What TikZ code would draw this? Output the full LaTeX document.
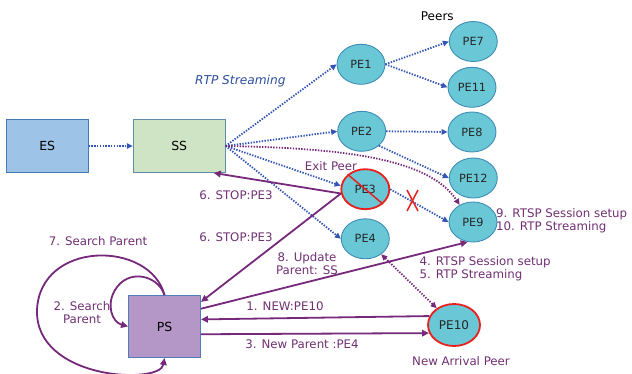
\documentclass[tikz,border=0pt]{standalone}
\usepackage{fontspec}
\setmainfont{DejaVu Sans}
\usetikzlibrary{arrows.meta,shapes.geometric}
\definecolor{peerfill}{RGB}{106,200,214}
\definecolor{peerline}{RGB}{62,140,182}
\definecolor{esfill}{RGB}{157,195,230}
\definecolor{esline}{RGB}{70,120,180}
\definecolor{ssfill}{RGB}{207,228,197}
\definecolor{ssline}{RGB}{96,140,170}
\definecolor{psfill}{RGB}{180,151,198}
\definecolor{psline}{RGB}{80,125,185}
\definecolor{purp}{RGB}{118,40,122}
\definecolor{purptxt}{RGB}{112,48,115}
\definecolor{bluedot}{RGB}{51,85,181}
\definecolor{bluetxt}{RGB}{46,79,158}
\definecolor{redx}{RGB}{232,32,30}
\begin{document}
\begin{tikzpicture}[x=1pt,y=-1pt,
  peer/.style={ellipse, draw=peerline, fill=peerfill, line width=0.9pt,
    minimum width=48pt, minimum height=40pt, inner sep=0pt,
    font=\fontsize{11.3}{13}\selectfont, text=black!85},
  redpeer/.style={peer, draw=redx, line width=1.8pt},
  box/.style={draw, line width=0.9pt, inner sep=0pt, font=\fontsize{12.5}{14}\selectfont},
  tip/.style={-{Triangle[length=6pt,width=5.5pt]}},
  bdot/.style={draw=bluedot, line width=1.8pt, dash pattern=on 1.4pt off 1.4pt, tip},
  pdot/.style={draw=purp, line width=1.8pt, dash pattern=on 1.4pt off 1.4pt, tip},
  pline/.style={draw=purp, line width=1.8pt, -{Triangle[length=7pt,width=6.5pt]}},
  lbl/.style={text=purptxt, font=\fontsize{11.8}{13}\selectfont, inner sep=0pt},
  redmark/.style={draw=redx, line width=1.5pt}
]
\useasboundingbox (0,0) rectangle (632,374);

% boxes
\node[box, fill=esfill, draw=esline, minimum width=82pt, minimum height=53pt] (ES) at (47.2,146) {ES};
\node[box, fill=ssfill, draw=ssline, minimum width=92pt, minimum height=53pt] (SS) at (179.2,146) {SS};
\node[box, fill=psfill, draw=psline, minimum width=72pt, minimum height=62pt] (PS) at (164.5,326.5) {PS};

% peers
\node[peer] (PE1) at (361,64.3) {PE1};
\node[peer] (PE7) at (473.3,41.5) {PE7};
\node[peer] (PE11) at (472,87.3) {PE11};
\node[peer] (PE2) at (361.7,131.3) {PE2};
\node[peer] (PE8) at (472,132) {PE8};
\node[peer] (PE12) at (473.3,178) {PE12};
\node[redpeer] (PE3) at (365.3,189.2) {PE3};
\node[peer] (PE4) at (365.3,238.8) {PE4};
\node[peer] (PE9) at (473,222) {PE9};
\node[redpeer, minimum width=52pt, minimum height=42pt, font=\fontsize{12}{14}\selectfont] (PE10) at (454,325) {PE10};

% labels
\node[font=\fontsize{12}{14}\selectfont, inner sep=0pt] (peers) at (437.3,16) {Peers};
\node[font=\fontsize{12.2}{14}\itshape, text=bluetxt, inner sep=0pt] (rtp) at (240.3,81.3) {RTP Streaming};
\node[lbl] (exit) at (331,166) {Exit Peer};
\node[lbl] (stop1) at (236,195) {6. STOP:PE3};
\node[lbl] (stop2) at (236,237) {6. STOP:PE3};
\node[lbl] (search7) at (98,241) {7. Search Parent};
\node[lbl, align=center] (search2) at (82,313) {2. Search\\Parent};
\node[lbl, align=center] (update) at (307,263.7) {8. Update\\Parent: SS};
\node[lbl] (new) at (285,306) {1. NEW:PE10};
\node[lbl] (newp) at (302,344) {3. New Parent :PE4};
\node[lbl, align=left, anchor=west] (rtsp4) at (419.5,269) {4. RTSP Session setup\\5. RTP Streaming};
\node[lbl, align=left, anchor=west] (rtsp9) at (496,220.5) {9. RTSP Session setup\\10. RTP Streaming};
\node[lbl] (arrival) at (461,361) {New Arrival Peer};

% blue streaming
\draw[bdot] (ES.east) -- (SS.west);
\draw[bdot] (SS.east) -- (PE1.west);
\draw[bdot] (SS.east) -- (PE2.west);
\draw[bdot] (SS.east) -- (PE3.172);
\draw[bdot] (SS.east) -- (PE4.west);
\draw[bdot] (PE1.east) -- (PE7.west);
\draw[bdot] (PE1.east) -- (PE11.west);
\draw[bdot] (PE2.east) -- (PE8.west);
\draw[bdot] (PE2.-40) -- (PE12.west);
\draw[bdot] (PE3.east) -- (PE9.west);

% purple dotted
\draw[pdot] (SS.east) .. controls (350,148) and (430,160) .. (PE9.128);
\draw[pdot, {Triangle[length=6pt,width=5.5pt]}-{Triangle[length=6pt,width=5.5pt]}] (PE4) -- (PE10);

% purple solid
\draw[pline] (PE3.190) -- (SS.-38);
\draw[pline] (PE3.190) -- (PS.34);
\draw[pline] (PS.26) -- (PE9.255);
\draw[pline] (PE10.160) -- (PS.11);
\draw[pline] (PS.-12) -- (PE10.198);
\draw[pline] (PS.north) .. controls (150,240) and (40,240) .. (37,310)
  .. controls (35,380) and (160,385) .. (PS.south);
\draw[pline] (PS.north) .. controls (158,275) and (128,268) .. (115,290)
  .. controls (106,305) and (112,322) .. (PS.west);

% red marks
\draw[redmark] (PE3.north west) -- (PE3.south east);
\coordinate (xm) at (412.5,200.5);
\draw[redmark] ([shift={(-5.5,-10.5)}]xm) -- ([shift={(5.5,10.5)}]xm);
\draw[redmark] ([shift={(5.5,-10.5)}]xm) -- ([shift={(-5.5,10.5)}]xm);
\end{tikzpicture}
\end{document}
